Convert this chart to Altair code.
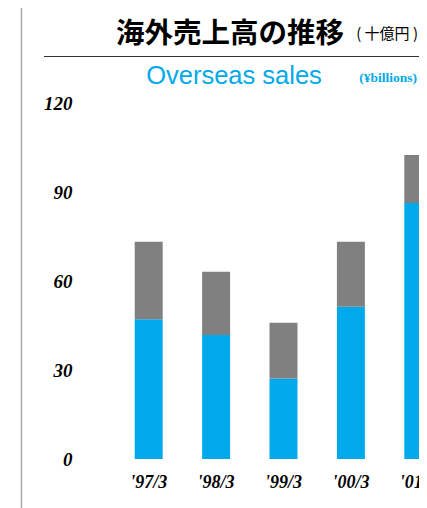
import altair as alt
import pandas as pd

# ---- data ----
periods = ["'97/3", "'98/3", "'99/3", "'00/3", "'01/3"]
lower_vals = [47.1, 41.8, 27.1, 51.3, 86.3]   # blue (lower) segment
upper_vals = [26.1, 21.3, 18.8, 21.9, 16.2]   # gray (upper) segment
series_names = ["lower", "upper"]
series_colors = ["#00a9e9", "#808080"]
y_ticks = [0, 30, 60, 90, 120]

rows = []
for p, lo, up in zip(periods, lower_vals, upper_vals):
    rows.append({"period": p, "series": "lower", "value": lo, "ord": 0})
    rows.append({"period": p, "series": "upper", "value": up, "ord": 1})
df = pd.DataFrame(rows)

bars = alt.Chart(df).mark_bar().encode(
    x=alt.X(
        "period:N",
        sort=periods,
        scale=alt.Scale(range=[0, 337], paddingInner=0.585, paddingOuter=0.2925),
        axis=alt.Axis(
            title=None, labelAngle=0, ticks=False, domain=False,
            labelFont="Liberation Serif", labelFontStyle="italic", labelFontWeight="bold",
            labelFontSize=18, labelColor="#000000", labelBaseline="middle", labelPadding=23,
        ),
    ),
    y=alt.Y(
        "value:Q",
        stack="zero",
        scale=alt.Scale(domain=[0, 120], nice=False),
        axis=alt.Axis(
            title=None, values=y_ticks, ticks=False, domain=False, grid=False,
            labelFont="Liberation Serif", labelFontStyle="italic", labelFontWeight="bold",
            labelFontSize=19, labelColor="#000000", labelPadding=43,
        ),
    ),
    color=alt.Color("series:N", scale=alt.Scale(domain=series_names, range=series_colors), legend=None),
    order=alt.Order("ord:Q", sort="ascending"),
)

one = alt.Data(values=[{}])


def txt(text, x, y, size, color, font, weight="normal", style="normal", align="center"):
    return alt.Chart(one).mark_text(
        text=text, font=font, fontSize=size, fontWeight=weight, fontStyle=style,
        color=color, align=align, baseline="middle",
    ).encode(x=alt.value(x), y=alt.value(y))


def rule(x1, x2, y1, y2, color, w):
    return alt.Chart(one).mark_rule(color=color, strokeWidth=w).encode(
        x=alt.value(x1), x2=alt.value(x2), y=alt.value(y1), y2=alt.value(y2)
    )


frame_v = rule(-93.5, -93.5, -97, 420, "#ababab", 1.5)
frame_h = rule(-93.5, 330, -96.5, -96.5, "#ababab", 1.5)
title_rule = rule(-71, 304, -46.5, -46.5, "#333333", 1)

title = txt("海外売上高の推移", 115, -69.5, 28.5, "#000000", "Noto Sans CJK JP", weight="bold")
unit_jp = txt("( 十億円 )", 303, -69.5, 15, "#000000", "Noto Sans CJK JP", align="right")
subtitle = txt("Overseas sales", 119, -27, 25.5, "#00a9e9", "Liberation Sans")
unit_en = txt("(¥billions)", 302, -25, 13.5, "#00a9e9", "Liberation Serif", weight="bold", align="right")

chart = alt.layer(
    frame_v, frame_h, title_rule, title, unit_jp, subtitle, unit_en, bars
).properties(
    width=304,
    height=356,
    padding={"left": 107, "top": 95, "right": 0, "bottom": 49},
    autosize=alt.AutoSizeParams(type="none"),
    background="#ffffff",
).configure_view(stroke=None)

chart.save("out.html", embed_options={"renderer": "svg", "actions": False})
